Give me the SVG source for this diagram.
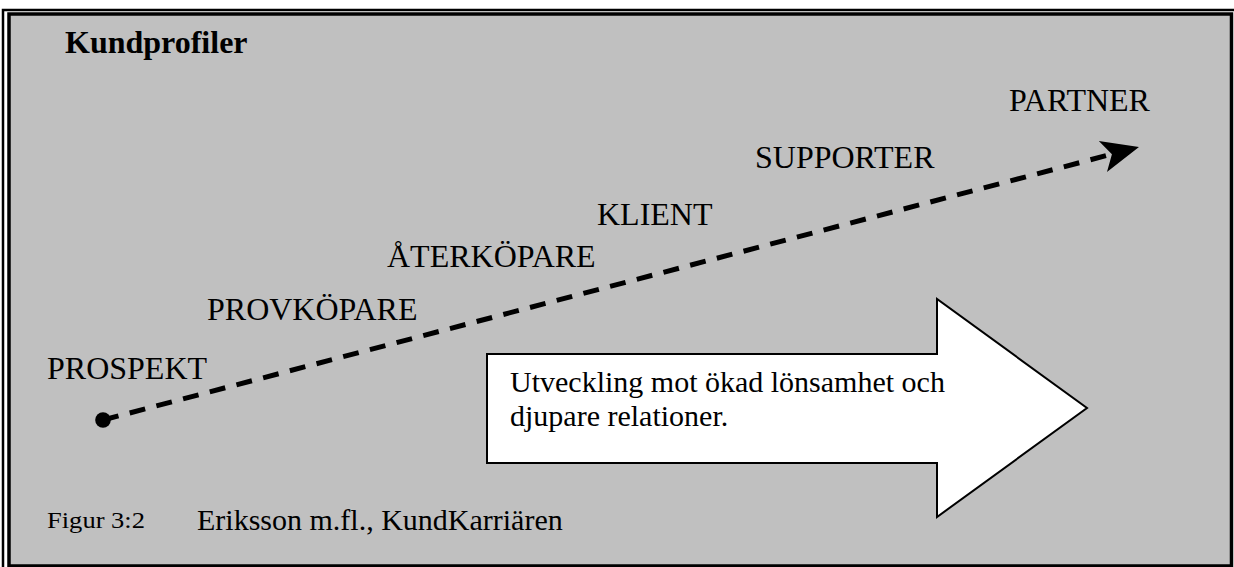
<svg xmlns="http://www.w3.org/2000/svg" width="1234" height="567" viewBox="0 0 1234 567">
<style>
.t{font-family:"Liberation Serif","Times New Roman",serif;fill:#000}
.lbl{font-size:32px}
</style>
<defs>
<marker id="ah" markerUnits="userSpaceOnUse" markerWidth="40" markerHeight="40" refX="28" refY="12" orient="auto" viewBox="0 0 30 24">
<path d="M0,0 L28,12 L0,24 L7,12 Z" fill="#000"/>
</marker>
</defs>
<rect x="0" y="0" width="1234" height="567" fill="#fff"/>
<rect x="3" y="10" width="1240" height="570" fill="none" stroke="#000" stroke-width="2.5"/>
<rect x="9" y="14" width="1222.5" height="552" fill="#c0c0c0" stroke="#000" stroke-width="3.5"/>
<g id="title"><text class="t" x="65" y="53" font-size="32" font-weight="bold">Kundprofiler</text></g>
<g id="connectors">
<line x1="103" y1="420" x2="1139" y2="147" stroke="#000" stroke-width="5" stroke-dasharray="16 11.6" marker-end="url(#ah)"/>
<circle cx="103" cy="420" r="7.8" fill="#000"/>
</g>
<g id="prospekt"><text class="t lbl" x="47" y="379">PROSPEKT</text></g>
<g id="provkopare"><text class="t lbl" x="207" y="320">PROVKÖPARE</text></g>
<g id="aterkopare"><text class="t lbl" x="387" y="267">ÅTERKÖPARE</text></g>
<g id="klient"><text class="t lbl" x="597" y="225">KLIENT</text></g>
<g id="supporter"><text class="t lbl" x="755" y="168">SUPPORTER</text></g>
<g id="partner"><text class="t lbl" x="1009" y="111">PARTNER</text></g>
<g id="big-arrow">
<path d="M487,354 L937,354 L937,299 L1087,408 L937,517 L937,463 L487,463 Z" fill="#fff" stroke="#000" stroke-width="2"/>
<text class="t" x="510" y="392" font-size="30">Utveckling mot ökad lönsamhet och</text>
<text class="t" x="510" y="426" font-size="30">djupare relationer.</text>
</g>
<g id="caption">
<text class="t" x="47" y="528" font-size="23" textLength="98" lengthAdjust="spacingAndGlyphs">Figur 3:2</text>
<text class="t" x="197" y="530" font-size="30">Eriksson m.fl., KundKarriären</text>
</g>
</svg>
